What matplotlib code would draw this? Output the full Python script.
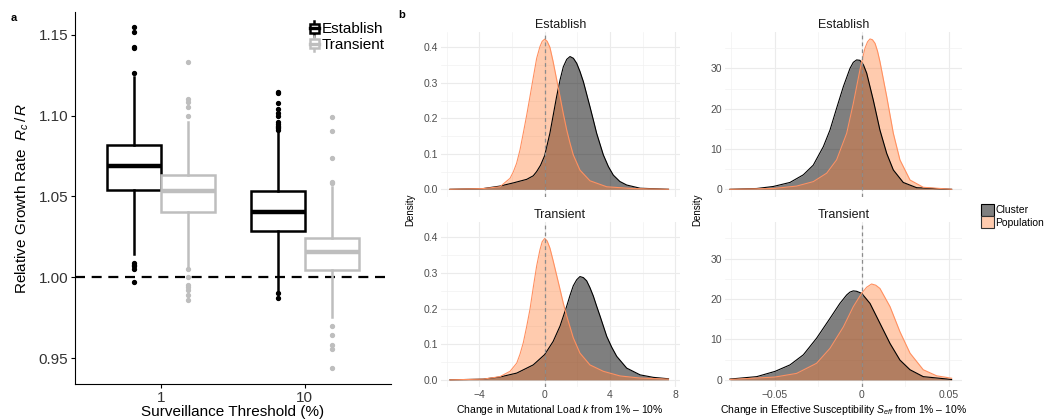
import matplotlib
matplotlib.use("Agg")
import matplotlib.pyplot as plt
from matplotlib.legend_handler import HandlerBase
from matplotlib.patches import Patch, Rectangle
from matplotlib.lines import Line2D

plt.rcParams["font.family"] = ["Liberation Sans", "DejaVu Sans"]
plt.rcParams["mathtext.fontset"] = "custom"
plt.rcParams["mathtext.rm"] = "Liberation Sans"
plt.rcParams["mathtext.it"] = "Liberation Sans:italic"

# ---- panel a: relative growth rate by surveillance threshold ----
thresholds = ["1", "10"]
groups = ["Establish", "Transient"]

est_q1 = [1.0537, 1.0285]
est_med = [1.0688, 1.0405]
est_q3 = [1.0820, 1.0533]
est_lo = [1.0141, 0.9920]
est_hi = [1.1236, 1.0905]
est_fliers = [
    [1.1546, 1.1515, 1.1426, 1.1416, 1.1263, 1.0089, 1.0075, 1.0068, 1.0052, 0.9969],
    [1.0912, 1.0920, 1.0928, 1.0936, 1.0945, 1.0962, 1.0998, 1.1015, 1.1040,
     1.1077, 1.1137, 1.1143, 0.9903, 0.9872],
]

tra_q1 = [1.0403, 1.0043]
tra_med = [1.0533, 1.0157]
tra_q3 = [1.0632, 1.0244]
tra_lo = [1.0058, 0.9754]
tra_hi = [1.0961, 1.0556]
tra_fliers = [
    [1.1329, 1.1102, 1.1081, 1.1050, 1.0994, 1.0048, 1.0002, 0.9955, 0.9938,
     0.9924, 0.9893, 0.9862],
    [1.0581, 1.0590, 1.0740, 1.0905, 1.0988, 0.9700, 0.9645, 0.9583, 0.9558, 0.9442],
]

# ---- panel b: density of changes from 1% to 10% ----
load_x_est_cluster = [-5.80, -3.76, -2.74, -1.92, -1.10, -0.70, -0.49, -0.25, 0.00, 0.32,
                      0.52, 0.73, 0.94, 1.14, 1.35, 1.55, 1.76, 1.96, 2.16, 2.37, 2.57,
                      2.77, 2.98, 3.18, 3.59, 3.90, 4.20, 4.60, 5.02, 5.84, 7.58]
load_y_est_cluster = [0.000, 0.002, 0.009, 0.018, 0.028, 0.038, 0.050, 0.068, 0.095, 0.158,
                      0.208, 0.261, 0.308, 0.345, 0.366, 0.374, 0.369, 0.355, 0.332, 0.303,
                      0.268, 0.233, 0.195, 0.158, 0.097, 0.064, 0.040, 0.022, 0.012, 0.003,
                      0.000]
load_x_est_pop = [-5.80, -3.76, -2.74, -2.12, -1.92, -1.72, -1.51, -1.31, -1.10, -0.90,
                  -0.69, -0.49, -0.29, -0.15, 0.00, 0.15, 0.32, 0.52, 0.73, 0.94, 1.14,
                  1.35, 1.55, 1.75, 2.16, 2.77, 3.80, 5.43, 7.58]
load_y_est_pop = [0.000, 0.002, 0.007, 0.031, 0.049, 0.073, 0.111, 0.158, 0.209, 0.261,
                  0.317, 0.369, 0.402, 0.417, 0.423, 0.417, 0.400, 0.359, 0.310, 0.261,
                  0.213, 0.167, 0.130, 0.097, 0.054, 0.024, 0.007, 0.002, 0.000]

load_x_tra_cluster = [-5.80, -3.76, -2.74, -1.71, -0.70, 0.00, 0.52, 0.94, 1.35, 1.55,
                      1.75, 1.96, 2.16, 2.37, 2.57, 2.77, 2.98, 3.18, 3.39, 3.80, 4.10,
                      4.41, 5.02, 5.84, 6.65, 7.58]
load_y_tra_cluster = [0.000, 0.002, 0.008, 0.019, 0.042, 0.071, 0.108, 0.151, 0.207, 0.237,
                      0.264, 0.281, 0.290, 0.287, 0.278, 0.259, 0.235, 0.207, 0.179, 0.122,
                      0.092, 0.066, 0.033, 0.014, 0.007, 0.003]
load_x_tra_pop = [-5.80, -3.76, -2.74, -2.12, -1.71, -1.51, -1.31, -1.10, -0.90, -0.69,
                  -0.49, -0.29, -0.15, 0.00, 0.15, 0.32, 0.52, 0.73, 0.94, 1.14, 1.35,
                  1.75, 2.16, 2.77, 3.59, 4.61, 5.84, 7.58]
load_y_tra_pop = [0.000, 0.002, 0.009, 0.024, 0.047, 0.072, 0.104, 0.150, 0.198, 0.262,
                  0.320, 0.365, 0.388, 0.397, 0.390, 0.370, 0.334, 0.294, 0.254, 0.215,
                  0.179, 0.118, 0.075, 0.042, 0.024, 0.011, 0.005, 0.002]

sus_x_est_cluster = [-0.0757, -0.0603, -0.0508, -0.0412, -0.0335, -0.0278, -0.0220, -0.0182,
                     -0.0144, -0.0105, -0.0067, -0.0048, -0.0029, -0.0010, 0.0010, 0.0029,
                     0.0067, 0.0105, 0.0144, 0.0182, 0.0239, 0.0316, 0.0517]
sus_y_est_cluster = [0.0, 0.2, 0.7, 1.7, 3.6, 6.0, 10.6, 14.7, 20.1, 25.5, 30.0, 31.5, 32.1,
                     32.0, 30.9, 28.8, 22.1, 14.7, 8.9, 4.8, 1.7, 0.4, 0.0]
sus_x_est_pop = [-0.0757, -0.0508, -0.0374, -0.0278, -0.0201, -0.0144, -0.0086, -0.0048,
                 -0.0010, 0.0019, 0.0034, 0.0048, 0.0062, 0.0077, 0.0091, 0.0105, 0.0144,
                 0.0182, 0.0220, 0.0278, 0.0354, 0.0517]
sus_y_est_pop = [0.0, 0.2, 0.8, 1.9, 4.0, 7.3, 13.9, 21.3, 29.6, 35.0, 36.6, 37.3, 37.1,
                 36.2, 34.3, 31.7, 23.0, 13.9, 7.3, 2.3, 0.5, 0.0]

sus_x_tra_cluster = [-0.0757, -0.0603, -0.0498, -0.0412, -0.0335, -0.0259, -0.0182, -0.0125,
                     -0.0086, -0.0067, -0.0048, -0.0029, 0.0000, 0.0048, 0.0105, 0.0163,
                     0.0220, 0.0278, 0.0354, 0.0517]
sus_y_tra_cluster = [0.2, 0.8, 2.1, 3.7, 6.2, 10.3, 15.2, 18.9, 21.0, 21.7, 22.0, 21.9, 21.4,
                     18.9, 14.0, 9.0, 4.9, 2.5, 0.8, 0.1]
sus_x_tra_pop = [-0.0757, -0.0498, -0.0374, -0.0259, -0.0182, -0.0105, -0.0048, 0.0000,
                 0.0029, 0.0057, 0.0081, 0.0105, 0.0163, 0.0220, 0.0278, 0.0354, 0.0431,
                 0.0517]
sus_y_tra_pop = [0.1, 0.7, 1.6, 4.1, 7.8, 13.1, 18.1, 21.4, 22.9, 23.7, 23.4, 22.6, 18.1,
                 11.9, 6.6, 2.5, 1.0, 0.4]

EST_COLOR = "black"
TRA_COLOR = "#BEBEBE"
POP_FILL = "#FF7D35"
POP_LINE = "#FF9060"
W, H = 1044, 420


class BoxKey(HandlerBase):
    """Little boxplot glyph for the legend."""

    def create_artists(self, legend, orig_handle, xdescent, ydescent,
                       width, height, fontsize, trans):
        c = orig_handle.get_edgecolor()
        x0, y0 = -xdescent, -ydescent
        cx = x0 + width / 2
        bw = width * 0.8
        box = Rectangle((cx - bw / 2, y0 + height * 0.15), bw, height * 0.7,
                        facecolor="white", edgecolor=c, lw=1.8, transform=trans)
        med = Line2D([cx - bw / 2, cx + bw / 2], [y0 + height * 0.5] * 2,
                     color=c, lw=2.4, transform=trans)
        wh = Line2D([cx, cx], [y0 - height * 0.1, y0 + height * 1.1],
                    color=c, lw=1.8, transform=trans)
        return [wh, box, med]


def box_stats(q1, med, q3, lo, hi, fl):
    return [dict(q1=q1[i], med=med[i], q3=q3[i], whislo=lo[i], whishi=hi[i], fliers=fl[i])
            for i in range(len(q1))]


fig = plt.figure(figsize=(W / 100, H / 100), dpi=100)

ax = fig.add_axes([75 / W, 1 - 384 / H, 316 / W, 372 / H])
for stats, pos, col in [
    (box_stats(est_q1, est_med, est_q3, est_lo, est_hi, est_fliers), [0.8125, 1.8125], EST_COLOR),
    (box_stats(tra_q1, tra_med, tra_q3, tra_lo, tra_hi, tra_fliers), [1.1875, 2.1875], TRA_COLOR),
]:
    ax.bxp(stats, positions=pos, widths=0.375, showcaps=False, patch_artist=True,
           boxprops=dict(facecolor="white", edgecolor=col, lw=1.8),
           medianprops=dict(color=col, lw=3.2, solid_capstyle="butt"),
           whiskerprops=dict(color=col, lw=1.8),
           flierprops=dict(marker="o", markersize=2.8, markerfacecolor=col,
                           markeredgecolor=col, lw=0))
ax.axhline(1.0, color="black", lw=1.6, dashes=(4.5, 3), zorder=0)
ax.set_xlim(0.4, 2.6)
ax.set_ylim(0.934, 1.164)
ax.set_xticks([1, 2])
ax.set_xticklabels(thresholds)
ax.set_yticks([0.95, 1.00, 1.05, 1.10, 1.15])
ax.set_yticklabels(["0.95", "1.00", "1.05", "1.10", "1.15"])
ax.tick_params(labelsize=11, labelcolor="#333333", length=3, width=0.8, pad=2)
for s in ["top", "right"]:
    ax.spines[s].set_visible(False)
for s in ["left", "bottom"]:
    ax.spines[s].set_linewidth(0.8)
ax.set_xlabel("Surveillance Threshold (%)", fontsize=11, labelpad=0)
ax.set_ylabel(r"Relative Growth Rate  $R_c\,/\,R$", fontsize=11, labelpad=5)
ax.legend([Patch(edgecolor=EST_COLOR), Patch(edgecolor=TRA_COLOR)], groups,
          handler_map={Patch: BoxKey()}, loc="upper right", bbox_to_anchor=(1.0, 0.99),
          frameon=False, fontsize=11, handlelength=0.7, handleheight=0.9,
          handletextpad=0.15, labelspacing=0.05, borderaxespad=0)


def density_panel(rect, title, xc, yc, xp, yp, xlim, ylim, xmaj, xmin, ymaj, ymin,
                  xticks_shown, ytick_fmt):
    a = fig.add_axes(rect)
    a.set_axisbelow(True)
    a.fill_between(xc, yc, color="black", alpha=0.5, lw=0)
    a.plot(xc, yc, color="black", lw=0.8)
    a.fill_between(xp, yp, color=POP_FILL, alpha=0.4, lw=0)
    a.plot(xp, yp, color=POP_LINE, lw=0.8)
    a.axvline(0, color="#8C8C8C", lw=0.9, ls=(0, (3, 2.5)))
    a.set_xlim(*xlim)
    a.set_ylim(*ylim)
    a.set_xticks(xmaj)
    a.set_xticks(xmin, minor=True)
    a.set_yticks(ymaj)
    a.set_yticks(ymin, minor=True)
    a.set_yticklabels([ytick_fmt(v) for v in ymaj])
    if xticks_shown:
        a.set_xticklabels([f"{v:g}".replace("-", "\u2212") if abs(v) >= 1 or v == 0
                           else f"{v:.2f}".replace("-", "\u2212") for v in xmaj])
    else:
        a.set_xticklabels([])
    a.grid(which="major", color="#EBEBEB", lw=0.8)
    a.grid(which="minor", color="#F2F2F2", lw=0.5)
    a.tick_params(which="both", length=0, labelsize=7.5, labelcolor="#4D4D4D", pad=2)
    for s in a.spines.values():
        s.set_visible(False)
    a.set_title(title, fontsize=9, pad=3, color="#1A1A1A")
    return a


load_xlim = (-6.36, 8.26)
sus_xlim = (-0.0786, 0.0579)
load_ylim = (-0.0212, 0.444)
sus_ylim = (-1.86, 39.1)
lx = 440.8 / W
lw_ = 238.8 / W
rx = 724.9 / W
rw = 237.5 / W
top_b = 1 - 196.8 / H
top_h = 165.1 / H
bot_b = 1 - 387.4 / H
bot_h = 165.7 / H

fmt1 = lambda v: f"{v:.1f}"
fmt0 = lambda v: f"{v:g}"

density_panel([lx, top_b, lw_, top_h], "Establish", load_x_est_cluster, load_y_est_cluster,
              load_x_est_pop, load_y_est_pop, load_xlim, load_ylim, [-4, 0, 4, 8],
              [-6, -2, 2, 6], [0, 0.1, 0.2, 0.3, 0.4], [0.05, 0.15, 0.25, 0.35], False, fmt1)
a_bl = density_panel([lx, bot_b, lw_, bot_h], "Transient", load_x_tra_cluster,
                     load_y_tra_cluster, load_x_tra_pop, load_y_tra_pop, load_xlim, load_ylim,
                     [-4, 0, 4, 8], [-6, -2, 2, 6], [0, 0.1, 0.2, 0.3, 0.4],
                     [0.05, 0.15, 0.25, 0.35], True, fmt1)
a_bl.set_xlabel("Change in Mutational Load $k$ from 1% \u2013 10%", fontsize=7.5, labelpad=2)

density_panel([rx, top_b, rw, top_h], "Establish", sus_x_est_cluster, sus_y_est_cluster,
              sus_x_est_pop, sus_y_est_pop, sus_xlim, sus_ylim, [-0.05, 0, 0.05],
              [-0.075, -0.025, 0.025], [0, 10, 20, 30], [5, 15, 25, 35], False, fmt0)
a_br = density_panel([rx, bot_b, rw, bot_h], "Transient", sus_x_tra_cluster,
                     sus_y_tra_cluster, sus_x_tra_pop, sus_y_tra_pop, sus_xlim, sus_ylim,
                     [-0.05, 0, 0.05], [-0.075, -0.025, 0.025], [0, 10, 20, 30],
                     [5, 15, 25, 35], True, fmt0)
a_br.set_xlabel("Change in Effective Susceptibility $S_{eff}$ from 1% \u2013 10%",
                fontsize=7.5, labelpad=2)

fig.text(410 / W, 1 - 210 / H, "Density", rotation=90, fontsize=7, ha="center", va="center")
fig.text(697 / W, 1 - 210 / H, "Density", rotation=90, fontsize=7, ha="center", va="center")

fig.legend([Patch(facecolor="#7F7F7F", edgecolor="black", lw=0.8),
            Patch(facecolor="#FFCBAE", edgecolor="#333333", lw=0.8)],
           ["Cluster", "Population"], loc="upper left",
           bbox_to_anchor=(981 / W, 1 - 204 / H), frameon=False, fontsize=7.5,
           handlelength=1.25, handleheight=1.4, handletextpad=0.15, labelspacing=0.0,
           borderaxespad=0, borderpad=0)

fig.text(14 / W, 1 - 18 / H, "a", fontsize=8, fontweight="bold", ha="center", va="center")
fig.text(402 / W, 1 - 15 / H, "b", fontsize=8, fontweight="bold", ha="center", va="center")

fig.savefig("out.png", dpi=100)
